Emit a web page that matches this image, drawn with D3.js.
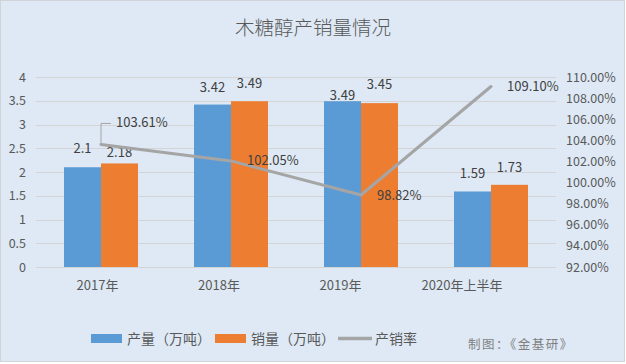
<!DOCTYPE html>
<html><head><meta charset="utf-8">
<script src="https://cdn.jsdelivr.net/npm/d3@7/dist/d3.min.js"></script>
<style>body{margin:0;background:#fff}svg{display:block}text{font-family:"Noto Sans CJK SC","Noto Sans",sans-serif}</style>
</head><body><svg id="c" width="626" height="364"></svg>
<script>
const categories = ["2017年","2018年","2019年","2020年上半年"];
const production = [2.1, 3.42, 3.49, 1.59];
const sales = [2.18, 3.49, 3.45, 1.73];
const rate = [103.61, 102.05, 98.82, 109.10];
const leftTicks = [0,0.5,1,1.5,2,2.5,3,3.5,4];
const rightTicks = [92,94,96,98,100,102,104,106,108,110];
const seriesNames = ["产量（万吨）","销量（万吨）","产销率"];
const title = "木糖醇产销量情况";
const source = "制图：《金基研》";

const svg = d3.select("#c");
svg.append("rect").attr("x",0.5).attr("y",0.5).attr("width",624).attr("height",361)
  .attr("fill","#dee9f5").attr("stroke","#d0d3d8");

const L=36, R=556, T=77, B=267;
const x = d3.scaleBand().domain(categories).range([L,R]);
const y = d3.scaleLinear().domain([0,4]).range([B,T]);
const y2 = d3.scaleLinear().domain([92,110]).range([B,T]);

svg.append("text").attr("x",313).attr("y",35).attr("text-anchor","middle")
  .attr("font-size",19.5).attr("font-weight",300).attr("fill","#595959").text(title);

// grid
svg.append("g").selectAll("line").data(leftTicks).join("line")
  .attr("x1",L).attr("x2",R).attr("y1",d=>Math.round(y(d))+0.5).attr("y2",d=>Math.round(y(d))+0.5)
  .attr("stroke","#d4d4d4").attr("stroke-width",1);

// left axis labels
const la = svg.append("g").attr("transform",`translate(${L},0)`)
  .call(d3.axisLeft(y).tickValues(leftTicks).tickSize(0).tickPadding(10).tickFormat(d3.format("")));
la.select(".domain").remove();
la.selectAll("text").attr("font-size",12.5).attr("fill","#595959").attr("font-family","'Noto Sans CJK SC'");

const ra = svg.append("g").attr("transform",`translate(${R},0)`)
  .call(d3.axisRight(y2).tickValues(rightTicks).tickSize(0).tickPadding(10).tickFormat(d=>d.toFixed(2)+"%"));
ra.select(".domain").remove();
ra.selectAll("text").attr("font-size",12.5).attr("fill","#595959").attr("font-family","'Noto Sans CJK SC'");

// x labels
const bw = 37;
svg.append("g").selectAll("text").data(categories).join("text")
  .attr("x",(d,i)=>x(d)+x.bandwidth()/2-3.5-8.5*i).attr("y",290)
  .attr("text-anchor","middle").attr("font-size",13).attr("fill","#595959").text(d=>d);

// bars
const cx = d=>x(d)+x.bandwidth()/2;
svg.append("g").selectAll("rect").data(categories).join("rect")
  .attr("x",d=>cx(d)-bw).attr("width",bw).attr("y",(d,i)=>y(production[i])).attr("height",(d,i)=>B-y(production[i]))
  .attr("fill","#5b9bd5");
svg.append("g").selectAll("rect").data(categories).join("rect")
  .attr("x",d=>cx(d)).attr("width",bw).attr("y",(d,i)=>y(sales[i])).attr("height",(d,i)=>B-y(sales[i]))
  .attr("fill","#ed7d31");

// bar labels
const prodGap=[14,13,1,13], salesGap=[6.5,13,14,13];
svg.append("g").selectAll("text").data(categories).join("text")
  .attr("x",d=>cx(d)-bw/2).attr("y",(d,i)=>y(production[i])-prodGap[i])
  .attr("text-anchor","middle").attr("font-size",13).attr("fill","#404040").text((d,i)=>production[i]);
svg.append("g").selectAll("text").data(categories).join("text")
  .attr("x",d=>cx(d)+bw/2).attr("y",(d,i)=>y(sales[i])-salesGap[i])
  .attr("text-anchor","middle").attr("font-size",13).attr("fill","#404040").text((d,i)=>sales[i]);

// line
const line = d3.line().x((d,i)=>cx(categories[i])).y(d=>y2(d));
svg.append("path").datum(rate).attr("d",line).attr("fill","none")
  .attr("stroke","#a5a5a5").attr("stroke-width",3).attr("stroke-linejoin","round").attr("stroke-linecap","round");

// leader for first label
const p0x = cx(categories[0]), p0y = y2(rate[0]);
svg.append("path").attr("d",`M${p0x},${p0y-1}V${p0y-21}H${p0x+10}`).attr("fill","none")
  .attr("stroke","#a5a5a5").attr("stroke-width",1);
svg.append("g").selectAll("text").data(rate).join("text")
  .attr("x",(d,i)=>i===0?p0x+15:cx(categories[i])+16)
  .attr("y",(d,i)=>i===0?p0y-17:y2(d)+4.5)
  .attr("font-size",13).attr("fill","#404040").text(d=>d.toFixed(2)+"%");

// legend
const lg = svg.append("g").attr("font-size",14).attr("fill","#595959");
lg.append("rect").attr("x",91).attr("y",334).attr("width",31).attr("height",9).attr("fill","#5b9bd5");
lg.append("text").attr("x",127).attr("y",344).attr("fill","#595959").text(seriesNames[0]);
lg.append("rect").attr("x",215).attr("y",334).attr("width",31).attr("height",9).attr("fill","#ed7d31");
lg.append("text").attr("x",251).attr("y",344).attr("fill","#595959").text(seriesNames[1]);
lg.append("line").attr("x1",338).attr("x2",372).attr("y1",338.5).attr("y2",338.5).attr("stroke","#a5a5a5").attr("stroke-width",3.5);
lg.append("text").attr("x",375).attr("y",344).attr("fill","#595959").text(seriesNames[2]);

svg.append("text").attr("x",468).attr("y",349).attr("font-size",12.5).attr("letter-spacing",1.5).attr("fill","#7f7f7f").text(source);
</script></body></html>
